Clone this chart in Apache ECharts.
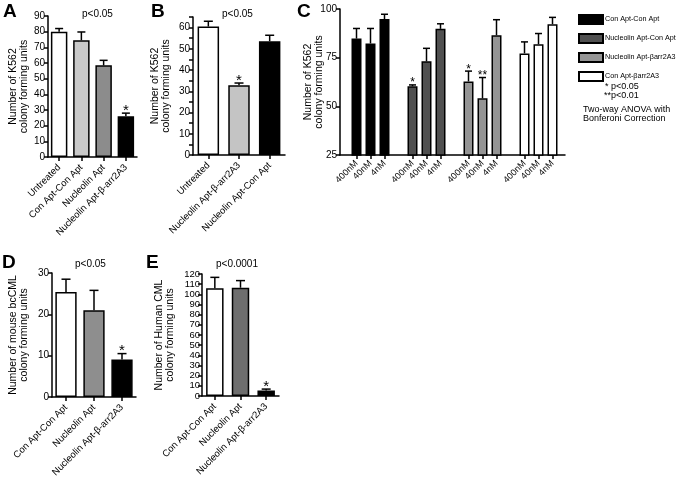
<!DOCTYPE html>
<html><head><meta charset="utf-8">
<script src="https://cdn.jsdelivr.net/npm/echarts@6/dist/echarts.min.js"></script>
<style>html,body{margin:0;padding:0;background:#fff}#c{width:680px;height:480px}</style>
</head><body><div id="c"></div>
<script>
const FONT = '"Liberation Sans", Arial, Helvetica, sans-serif';

// ---- Panel A ----
const aCategories = ['Untreated', 'Con Apt-Con Apt', 'Nucleolin Apt', 'Nucleolin Apt-β-arr2A3'];
const aValues = [80, 74.5, 58.5, 26];
const aErrors = [2, 5.3, 3.2, 2];
const aStars = ['', '', '', '*'];
const aColors = ['#ffffff', '#c9c9c9', '#8c8c8c', '#000000'];

// ---- Panel B ----
const bCategories = ['Untreated', 'Nucleolin Apt-β-arr2A3', 'Nucleolin Apt-Con Apt'];
const bValues = [60.5, 32.8, 53.6];
const bErrors = [2.5, 1.1, 2.8];
const bStars = ['', '*', ''];
const bColors = ['#ffffff', '#c4c4c4', '#000000'];

// ---- Panel C ----
const cGroups = ['Con Apt-Con Apt', 'Nucleolin Apt-Con Apt', 'Nucleolin Apt-βarr2A3', 'Con Apt-βarr2A3'];
const cConcs = ['400nM', '40nM', '4nM'];
const cValues = [[84.8, 82.3, 94.8], [60.3, 73.1, 89.8], [62.8, 54.1, 86.5], [77.2, 81.9, 92.2]];
const cErrors = [[5.2, 7.7, 2.5], [0.7, 6.7, 2.6], [5.3, 10.7, 8.0], [5.9, 5.5, 3.5]];
const cStars = [['', '', ''], ['*', '', ''], ['*', '**', ''], ['', '', '']];
const cColors = ['#000000', '#505050', '#949494', '#ffffff'];
const cTicks = [25, 50, 75, 100];

// ---- Panel D ----
const dCategories = ['Con Apt-Con Apt', 'Nucleolin Apt', 'Nucleolin Apt-β-arr2A3'];
const dValues = [25.4, 21, 9.1];
const dErrors = [3.1, 4.8, 1.4];
const dStars = ['', '', '*'];
const dColors = ['#ffffff', '#8e8e8e', '#000000'];

// ---- Panel E ----
const eCategories = ['Con Apt-Con Apt', 'Nucleolin Apt', 'Nucleolin Apt-β-arr2A3'];
const eValues = [106, 106.5, 5.5];
const eErrors = [10.7, 7, 1.3];
const eStars = ['', '', '*'];
const eColors = ['#ffffff', '#6e6e6e', '#000000'];

const AX = { color: '#000', width: 1.5 };

function valueAxis(gi, min, max, interval, name, nameGap, extra) {
  return Object.assign({
    type: 'value', gridIndex: gi, min, max, interval,
    axisLine: { show: true, lineStyle: AX },
    axisTick: { show: true, length: 4, lineStyle: AX },
    splitLine: { show: false },
    axisLabel: { fontFamily: FONT, fontSize: 10, color: '#000', margin: 3 },
    name, nameLocation: 'middle', nameGap, nameRotate: 90,
    nameTextStyle: { fontFamily: FONT, fontSize: 10.5, color: '#000', lineHeight: 11 }
  }, extra || {});
}
function catAxis(gi, cats, fs, extra) {
  return Object.assign({
    type: 'category', gridIndex: gi, data: cats,
    axisLine: { show: true, lineStyle: AX },
    axisTick: { show: true, alignWithLabel: true, length: 4, lineStyle: AX },
    axisLabel: { interval: 0, rotate: 45, fontFamily: FONT, fontSize: fs, color: '#000', margin: 9 }
  }, extra || {});
}
function barSeries(xi, yi, vals, colors, gap) {
  return {
    type: 'bar', xAxisIndex: xi, yAxisIndex: yi, barCategoryGap: gap, silent: true,
    data: vals.map((v, i) => ({ value: v, itemStyle: { color: colors[i] } })),
    itemStyle: { borderColor: '#000', borderWidth: 1.5 }
  };
}
function errorSeries(xi, yi, slots, vals, errs, stars, capHalf, starSize) {
  const data = vals.map((v, i) => [slots[i], v, v + errs[i], stars[i]]);
  return {
    type: 'custom', xAxisIndex: xi, yAxisIndex: yi, z: 5, silent: true, data,
    renderItem(params, api) {
      const x = api.value(0);
      const b = api.coord([x, api.value(1)]);
      const t = api.coord([x, api.value(2)]);
      const star = data[params.dataIndex][3];
      const ch = [
        { type: 'line', shape: { x1: b[0], y1: b[1], x2: t[0], y2: t[1] }, style: { stroke: '#000', lineWidth: 1.5 } },
        { type: 'line', shape: { x1: t[0] - capHalf, y1: t[1], x2: t[0] + capHalf, y2: t[1] }, style: { stroke: '#000', lineWidth: 1.5 } }
      ];
      if (star) ch.push({ type: 'text', x: t[0], y: t[1] + starSize * 0.35, style: { text: star, font: starSize + 'px ' + FONT, fill: '#000', align: 'center', verticalAlign: 'bottom' } });
      return { type: 'group', children: ch };
    }
  };
}

// C slots: 15 category slots, blank between groups
const cSlots = [];
cGroups.forEach((g, gi) => { cConcs.forEach(c => cSlots.push(c)); if (gi < cGroups.length - 1) cSlots.push(''); });
const cSlotIds = cSlots.map((s, i) => i + '|' + s);

const grids = [
  { left: 48, top: 16, width: 89, height: 141 },     // A
  { left: 193, top: 17, width: 92, height: 138 },    // B
  { left: 340, top: 9, width: 225, height: 146 },    // C frame
  { left: 349.5, top: 9, width: 210, height: 146 },  // C bars
  { left: 52, top: 273, width: 84, height: 124 },    // D
  { left: 202, top: 274, width: 77, height: 122 }    // E
];

const xAxes = [
  catAxis(0, aCategories, 9.5),
  catAxis(1, bCategories, 9.5),
  { type: 'value', gridIndex: 2, min: 0, max: 1, axisLine: { show: true, lineStyle: AX }, axisTick: { show: false }, axisLabel: { show: false }, splitLine: { show: false } },
  catAxis(3, cSlotIds, 9, {
    axisLine: { show: false },
    axisTick: { show: true, alignWithLabel: true, length: 4, lineStyle: AX, interval: (i, v) => v.split('|')[1] !== '' },
    axisLabel: { interval: 0, rotate: 45, fontFamily: FONT, fontSize: 9, color: '#000', margin: 7, formatter: v => v.split('|')[1] }
  }),
  catAxis(4, dCategories, 9.5),
  catAxis(5, eCategories, 9.5)
];

const yAxes = [
  valueAxis(0, 0, 90, 10, 'Number of K562\ncolony forming units', 16),
  valueAxis(1, 0, 65, 5, 'Number of K562\ncolony forming units', 21, {
    axisLabel: { fontFamily: FONT, fontSize: 10, color: '#000', margin: 3, formatter: v => (v % 10 === 0 ? v : '') }
  }),
  valueAxis(2, cTicks[0], cTicks[cTicks.length - 1], 25, 'Number of K562\ncolony forming units', 15, { nameMoveOverlap: false }),
  { type: 'value', gridIndex: 3, min: cTicks[0], max: cTicks[cTicks.length - 1], show: false },
  valueAxis(4, 0, 30, 10, 'Number of mouse bcCML\ncolony forming units', 22),
  valueAxis(5, 0, 120, 10, 'Number of Human CML\ncolony forming units', 26, {
    axisLabel: { fontFamily: FONT, fontSize: 9.5, color: '#000', margin: 2 }
  })
];

const series = [
  barSeries(0, 0, aValues, aColors, '26%'),
  errorSeries(0, 0, [0, 1, 2, 3], aValues, aErrors, aStars, 4, 15),
  barSeries(1, 1, bValues, bColors, '30%'),
  errorSeries(1, 1, [0, 1, 2], bValues, bErrors, bStars, 4.5, 15),
  barSeries(4, 4, dValues, dColors, '24%'),
  errorSeries(4, 4, [0, 1, 2], dValues, dErrors, dStars, 4.5, 15),
  barSeries(5, 5, eValues, eColors, '32%'),
  errorSeries(5, 5, [0, 1, 2], eValues, eErrors, eStars, 4.5, 15)
];

cGroups.forEach((g, gi) => {
  const arr = cSlotIds.map(() => '-');
  const slots = [];
  cConcs.forEach((c, ci) => { const s = gi * 4 + ci; arr[s] = cValues[gi][ci]; slots.push(s); });
  series.push({
    type: 'bar', name: g, xAxisIndex: 3, yAxisIndex: 3, barWidth: 10, barGap: '-100%', silent: true,
    data: arr, itemStyle: { color: cColors[gi], borderColor: '#000', borderWidth: 1.5 }
  });
  series.push(errorSeries(3, 3, slots, cValues[gi], cErrors[gi], cStars[gi], 3.5, 12));
});

const tStyle = (fs, bold) => ({ fontFamily: FONT, fontSize: fs, fontWeight: bold ? 'bold' : 'normal', color: '#000' });
const titles = [
  { text: 'A', left: 3, top: 2, textStyle: tStyle(19, true) },
  { text: 'B', left: 151, top: 2, textStyle: tStyle(19, true) },
  { text: 'C', left: 297, top: 2, textStyle: tStyle(19, true) },
  { text: 'D', left: 2, top: 253, textStyle: tStyle(19, true) },
  { text: 'E', left: 146, top: 253, textStyle: tStyle(19, true) },
  { text: 'p<0.05', left: 82, top: 9, textStyle: tStyle(10) },
  { text: 'p<0.05', left: 222, top: 9, textStyle: tStyle(10) },
  { text: 'p<0.05', left: 75, top: 259, textStyle: tStyle(10) },
  { text: 'p<0.0001', left: 216, top: 259, textStyle: tStyle(10) },
  { text: '* p<0.05', left: 605, top: 82, textStyle: tStyle(9) },
  { text: '**p<0.01', left: 604, top: 91, textStyle: tStyle(9) },
  { text: 'Two-way ANOVA with', left: 583, top: 105, textStyle: tStyle(9) },
  { text: 'Bonferoni Correction', left: 583, top: 114, textStyle: tStyle(9) }
].map(t => Object.assign({ padding: 0 }, t));

const chart = echarts.init(document.getElementById('c'));
chart.setOption({
  animation: false,
  backgroundColor: '#fff',
  title: titles,
  legend: {
    data: cGroups, orient: 'vertical', left: 578, top: 14, padding: 0,
    itemWidth: 24, itemHeight: 9, itemGap: 8, icon: 'rect', selectedMode: false,
    textStyle: { fontFamily: FONT, fontSize: 7.2, color: '#000', padding: [0, 0, 0, -3] }
  },
  grid: grids,
  xAxis: xAxes,
  yAxis: yAxes,
  series
});
</script>
</body></html>
